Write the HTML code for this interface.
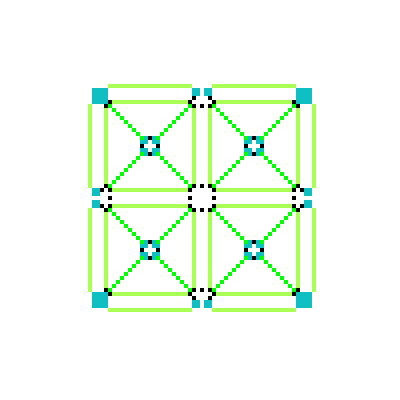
<!DOCTYPE html>
<html><head><meta charset="utf-8"><style>
html,body{margin:0;padding:0;background:#fff;width:400px;height:400px;overflow:hidden}
svg{display:block}
</style></head><body>
<svg id="art" width="400" height="400" viewBox="0 0 400 400" xmlns="http://www.w3.org/2000/svg"></svg>
<script>
// Top-left quadrant cells (col,row) on a 57x57 grid; mirrored 4 ways
const lightLines = [[5,0,21,'h'],[0,5,21,'v'],[6,4,19,'h'],[6,26,19,'h'],[4,6,19,'v'],[26,6,19,'v']];
const cyanBlocks = [[1,1,4,4],[26,1,2,2],[1,26,2,2],[14,13,1,2],[16,13,1,2],[13,14,1,1],[17,14,1,1],[14,16,1,2],[16,16,1,2],[13,16,1,1],[17,16,1,1]];
const blackCells = [[5,4],[4,5],[25,4],[26,5],[4,25],[5,26],[26,25],[25,26],[26,3],[28,5],[3,26],[5,28],[28,25],[25,28],[15,13],[13,15],[17,15],[15,17]];
const diagStarts = [[5,5,1,1],[25,5,-1,1],[5,25,1,-1],[25,25,-1,-1]];
const diagLen = 8;
const ringGreen = [[13,13],[17,13],[13,17],[17,17]];

const N=57, X0=88, Y0=84, S=4;
const svg=document.getElementById('art');
function px(c,r,w,h,color,name){
  const pts=[[c,r],[N-c-w,r],[c,N-r-h],[N-c-w,N-r-h]];
  pts.forEach(p=>{
    const el=document.createElementNS('http://www.w3.org/2000/svg','rect');
    el.setAttribute('x',X0+p[0]*S);el.setAttribute('y',Y0+p[1]*S);
    el.setAttribute('width',w*S);el.setAttribute('height',h*S);
    el.setAttribute('fill',color);
    
    
    svg.appendChild(el);
  });
}
lightLines.forEach(l=>{
  if(l[3]==='h') px(l[0],l[1],l[2],1,'#aaff55','light-green-line');
  else px(l[0],l[1],1,l[2],'#aaff55','light-green-line');
});
diagStarts.forEach(d=>{
  for(let k=0;k<diagLen;k++) px(d[0]+d[2]*k,d[1]+d[3]*k,1,1,'#00ff00','diagonal-pixel');
});
ringGreen.forEach(g=>px(g[0],g[1],1,1,'#00ff00','ring-green-pixel'));
cyanBlocks.forEach(b=>px(b[0],b[1],b[2],b[3],'#0fbfc2','cyan-block'));
blackCells.forEach(b=>px(b[0],b[1],1,1,'#000000','black-pixel'));
</script>
</body></html>
